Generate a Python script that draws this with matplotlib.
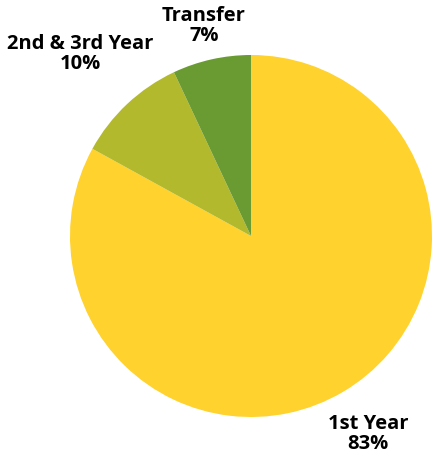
import matplotlib
matplotlib.use("Agg")
import matplotlib.pyplot as plt
import numpy as np

categories = ["1st Year", "2nd & 3rd Year", "Transfer"]
values = [83, 10, 7]
colors = ["#FFD22D", "#B3B92D", "#6A9B33"]
label_dist = [1.27, 1.38, 1.19]

fig = plt.figure(figsize=(4.33, 4.54), dpi=100)
ax = fig.add_axes([70 / 433, 37 / 454, 362 / 433, 362 / 454])
wedges, _ = ax.pie(values, colors=colors, startangle=90, counterclock=False,
                   wedgeprops=dict(linewidth=0))
ax.set_xlim(-1, 1)
ax.set_ylim(-1, 1)
ax.set_aspect("equal")
ax.axis("off")

for w, cat, v, d in zip(wedges, categories, values, label_dist):
    ang = np.deg2rad((w.theta1 + w.theta2) / 2)
    ax.text(d * np.cos(ang), d * np.sin(ang), f"{cat}\n{v}%",
            ha="center", va="center", multialignment="center",
            fontsize=14.5, fontweight="bold", family=["Open Sans", "DejaVu Sans"],
            linespacing=1.0, clip_on=False)

fig.savefig("out.png", dpi=100)
